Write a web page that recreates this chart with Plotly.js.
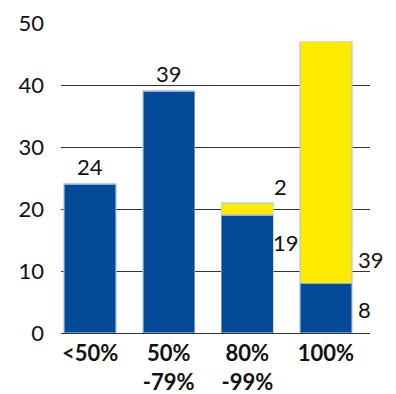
<!DOCTYPE html>
<html>
<head>
<meta charset="utf-8">
<script src="https://cdn.plot.ly/plotly-3.0.1.min.js"></script>
<style>html,body{margin:0;padding:0;background:#fff;}</style>
</head>
<body>
<div id="chart" style="width:396px;height:394px;"></div>
<script>
const categories = ["<50%", "50%<br>-79%", "80%<br>-99%", "100%"];
const blueValues = [24, 39, 19, 8];
const yellowValues = [0, 0, 2, 39];
const yTicks = [0, 10, 20, 30, 40, 50];

const blue = '#034A98';
const yellow = '#FFEB00';
const fontFam = 'Lato, "Open Sans", Arial, sans-serif';
const xIdx = categories.map((c, i) => i);

const traces = [
  {type: 'bar', x: xIdx, y: blueValues, marker: {color: blue, line: {color: 'rgba(170,195,230,0.6)', width: 1.5}}, hoverinfo: 'skip'},
  {type: 'bar', x: xIdx, y: yellowValues, marker: {color: yellow, line: {color: 'rgba(170,195,230,0.6)', width: 1.5}}, hoverinfo: 'skip'}
];

const labelFont = {family: fontFam, size: 22, color: '#111'};
const halfBar = 0.33;
const annotations = [
  {x: 0, y: blueValues[0], text: String(blueValues[0]), yanchor: 'bottom', xanchor: 'center', yshift: 2},
  {x: 1, y: blueValues[1], text: String(blueValues[1]), yanchor: 'bottom', xanchor: 'center', yshift: 2},
  {x: 2 + halfBar, y: blueValues[2] + yellowValues[2], text: String(yellowValues[2]), yanchor: 'middle', xanchor: 'left', yshift: 16, xshift: -1},
  {x: 2 + halfBar, y: blueValues[2], text: String(blueValues[2]), yanchor: 'middle', xanchor: 'left', yshift: -27, xshift: -2},
  {x: 3 + halfBar, y: blueValues[3], text: String(yellowValues[3]), yanchor: 'middle', xanchor: 'left', yshift: 24, xshift: 4},
  {x: 3 + halfBar, y: blueValues[3] / 2, text: String(blueValues[3]), yanchor: 'middle', xanchor: 'left', yshift: -1, xshift: 4}
].map(a => Object.assign({xref: 'x', yref: 'y', showarrow: false, font: labelFont}, a));

const layout = {
  width: 396, height: 394,
  margin: {l: 61, r: 26, t: 23, b: 61},
  paper_bgcolor: '#fff', plot_bgcolor: '#fff',
  showlegend: false,
  barmode: 'stack',
  bargap: 0.34,
  font: {family: fontFam, color: '#111'},
  xaxis: {
    range: [-0.37, 3.56],
    tickmode: 'array', tickvals: xIdx, ticktext: categories,
    tickfont: {family: fontFam, size: 22, color: '#111', weight: 'bold'},
    showgrid: false, zeroline: false, showline: false, ticks: '',
    ticklabelstandoff: 5
  },
  yaxis: {
    range: [0, 50],
    tickmode: 'array', tickvals: yTicks,
    tickfont: {family: fontFam, size: 22, color: '#111'},
    showgrid: true, gridcolor: '#333', gridwidth: 1,
    zeroline: true, zerolinecolor: '#333', zerolinewidth: 1,
    showline: false, ticks: '', ticklabelstandoff: 16
  },
  annotations: annotations
};

Plotly.newPlot('chart', traces, layout, {displayModeBar: false, staticPlot: true});
</script>
</body>
</html>
